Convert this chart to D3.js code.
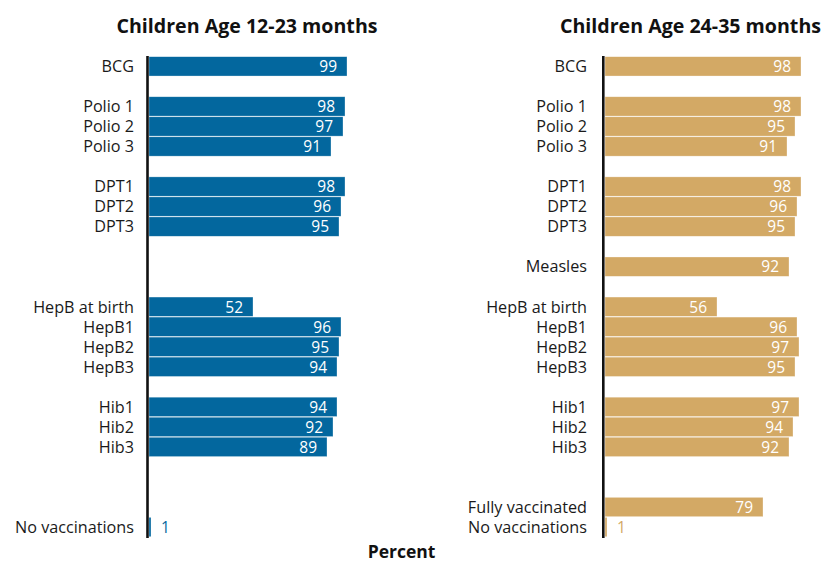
<!DOCTYPE html>
<html>
<head>
<meta charset="utf-8">
<script src="https://cdn.jsdelivr.net/npm/d3@7"></script>
<style>
  html, body { margin: 0; padding: 0; background: #fff; }
  svg { display: block; }
  text { font-family: "Open Sans", "Noto Sans", sans-serif; }
</style>
</head>
<body>
<svg id="chart" width="829" height="562"></svg>
<script>
// ---- Data ----
const categories = ["BCG", "Polio 1", "Polio 2", "Polio 3", "DPT1", "DPT2", "DPT3", "Measles",
  "HepB at birth", "HepB1", "HepB2", "HepB3", "Hib1", "Hib2", "Hib3", "Fully vaccinated", "No vaccinations"];
const age12to23 = [99, 98, 97, 91, 98, 96, 95, null, 52, 96, 95, 94, 94, 92, 89, null, 1];
const age24to35 = [98, 98, 95, 91, 98, 96, 95, 92, 56, 96, 97, 95, 97, 94, 92, 79, 1];
const panelTitles = ["Children Age 12-23 months", "Children Age 24-35 months"];
const axisTitle = "Percent";

// ---- Layout (row order with blank spacer rows) ----
const rowLayout = ["BCG", "_g1", "Polio 1", "Polio 2", "Polio 3", "_g2", "DPT1", "DPT2", "DPT3", "_g3",
  "Measles", "_g4", "HepB at birth", "HepB1", "HepB2", "HepB3", "_g5", "Hib1", "Hib2", "Hib3",
  "_g6", "_g7", "Fully vaccinated", "No vaccinations"];

const svg = d3.select("#chart");
const y = d3.scaleBand().domain(rowLayout).range([56.7, 536.7]).paddingInner(0.035).paddingOuter(0);
const x = d3.scaleLinear().domain([0, 100]).range([0, 200]);

const panels = [
  { title: panelTitles[0], values: age12to23, color: "#03679E", axisX: 147.5, barX: 149, labelX: 134, titleX: 247 },
  { title: panelTitles[1], values: age24to35, color: "#D3A965", axisX: 603.3, barX: 605, labelX: 587, titleX: 690.5 }
];

panels.forEach(p => {
  const g = svg.append("g");
  const rows = categories.map((c, i) => ({ cat: c, v: p.values[i] }));

  g.append("text")
    .attr("x", p.titleX).attr("y", 33)
    .attr("text-anchor", "middle")
    .attr("font-weight", 700).attr("font-size", 19.6)
    .attr("fill", "#111")
    .text(p.title);

  const present = rows.filter(d => d.v !== null);

  // category labels
  g.selectAll("text.cat").data(present).join("text")
    .attr("class", "cat")
    .attr("x", p.labelX)
    .attr("y", d => y(d.cat) + y.bandwidth() / 2 + 5.8)
    .attr("text-anchor", "end")
    .attr("font-size", 16.2)
    .attr("fill", "#1a1a1a")
    .text(d => d.cat);

  // bars
  g.selectAll("rect.bar").data(present).join("rect")
    .attr("class", "bar")
    .attr("x", p.barX)
    .attr("y", d => y(d.cat))
    .attr("width", d => x(d.v))
    .attr("height", y.bandwidth())
    .attr("fill", p.color)
    .attr("stroke", "#ffffff")
    .attr("stroke-opacity", 0.5)
    .attr("stroke-width", 0.6);

  // value labels
  g.selectAll("text.val").data(present).join("text")
    .attr("class", "val")
    .attr("x", d => d.v < 10 ? p.barX + x(d.v) + 10 : p.barX + x(d.v) - 10)
    .attr("y", d => y(d.cat) + y.bandwidth() / 2 + 5.8)
    .attr("text-anchor", d => d.v < 10 ? "start" : "end")
    .attr("font-size", 15.5)
    .attr("fill", d => d.v < 10 ? p.color : "#ffffff")
    .text(d => d.v);

  // axis line
  g.append("line")
    .attr("x1", p.axisX).attr("x2", p.axisX)
    .attr("y1", 56).attr("y2", 538)
    .attr("stroke", "#111").attr("stroke-width", 2.6);
});

svg.append("text")
  .attr("x", 401.5).attr("y", 558)
  .attr("text-anchor", "middle")
  .attr("font-weight", 700).attr("font-size", 17.5)
  .attr("fill", "#111")
  .text(axisTitle);
</script>
</body>
</html>
